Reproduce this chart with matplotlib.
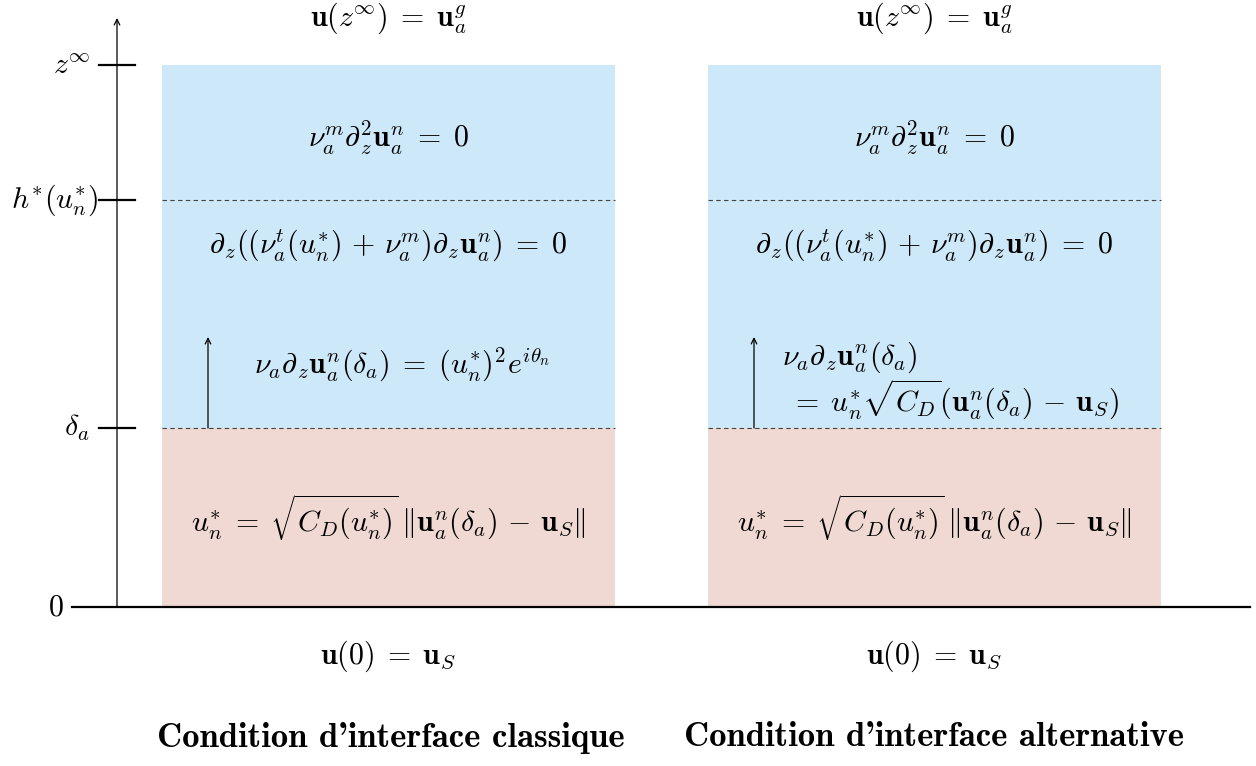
import matplotlib
matplotlib.use("Agg")
import matplotlib.pyplot as plt

plt.rcParams["mathtext.fontset"] = "cm"

# vertical levels (in "pixel height above ground" units)
level_names = [r"$0$", r"$\delta_a$", r"$h^{*}(u_n^{*})$", r"$z^\infty$"]
level_values = [0, 179, 407, 542]

# the two columns (left edge, right edge)
col_left = [162, 708]
col_right = [615, 1161]
captions = ["Condition d'interface classique", "Condition d'interface alternative"]
caption_x = [391, 934]

top_bc = r"$\mathbf{u}(z^{\infty}) \;=\; \mathbf{u}_a^g$"
bottom_bc = r"$\mathbf{u}(0) \;=\; \mathbf{u}_S$"
eq_top = r"$\nu_a^m \partial_z^2 \mathbf{u}_a^n \;=\; 0$"
eq_mid = r"$\partial_z((\nu_a^t(u_n^{*}) \,+\, \nu_a^m)\partial_z \mathbf{u}_a^n) \;=\; 0$"
eq_low = r"$u_n^{*} \;=\; \sqrt{C_D(u_n^{*})}\,\Vert\mathbf{u}_a^n(\delta_a) \,-\, \mathbf{u}_S\Vert$"
eq_interface_left = r"$\nu_a \partial_z \mathbf{u}_a^n(\delta_a) \;=\; (u_n^{*})^2 e^{i\theta_n}$"
eq_interface_right_1 = r"$\nu_a \partial_z \mathbf{u}_a^n(\delta_a)$"
eq_interface_right_2 = r"$=\; u_n^{*} \sqrt{C_D}(\mathbf{u}_a^n(\delta_a) \,-\, \mathbf{u}_S)$"

blue = "#cde8f8"
pink = "#f0d9d2"

fig = plt.figure(figsize=(12.56, 7.66), dpi=100)
ax = fig.add_axes([0, 0, 1, 1])
ax.set_xlim(0, 1256)
ax.set_ylim(-159, 607)
ax.axis("off")

z0, zd, zh, zinf = level_values
fs = 21.5

for xl, xr in zip(col_left, col_right):
    ax.fill_between([xl, xr], zd, zinf, color=blue, lw=0)
    ax.fill_between([xl, xr], z0, zd, color=pink, lw=0)
    for z in (zd, zh):
        ax.plot([xl, xr], [z, z], color="#444444", lw=0.8, ls=(0, (4, 3)))
    xc = (xl + xr) / 2
    ax.text(xc, 589, top_bc, fontsize=fs, ha="center", va="center")
    ax.text(xc, -49, bottom_bc, fontsize=fs, ha="center", va="center")
    ax.text(xc, 469, eq_top, fontsize=fs, ha="center", va="center")
    ax.text(xc, 361, eq_mid, fontsize=fs, ha="center", va="center")
    ax.text(xc, 89, eq_low, fontsize=fs, ha="center", va="center")
    # small arrow above the interface
    ax.annotate("", xy=(xl + 46, 270), xytext=(xl + 46, zd),
                arrowprops=dict(arrowstyle="->", lw=0.9, color="black",
                                shrinkA=0, shrinkB=0))

ax.text(402, 242, eq_interface_left, fontsize=fs, ha="center", va="center")
ax.text(782, 250, eq_interface_right_1, fontsize=fs, ha="left", va="center")
ax.text(790, 207, eq_interface_right_2, fontsize=fs, ha="left", va="center")

# vertical axis
ax.annotate("", xy=(117, 589), xytext=(117, 0),
            arrowprops=dict(arrowstyle="->", lw=0.9, color="black",
                            shrinkA=0, shrinkB=0))
ax.plot([72, 1250], [0, 0], color="black", lw=1.6)

label_x = [64, 90, 98, 90]
for name, z, lx in zip(level_names, level_values, label_x):
    if z > 0:
        ax.plot([99, 135], [z, z], color="black", lw=1.6)
    ax.text(lx, z, name, fontsize=fs, ha="right", va="center")

for cap, cx in zip(captions, caption_x):
    ax.text(cx, -131, cap, fontsize=25, family=["cmb10", "DejaVu Serif"],
            ha="center", va="center")

fig.savefig("out.png", dpi=100)
